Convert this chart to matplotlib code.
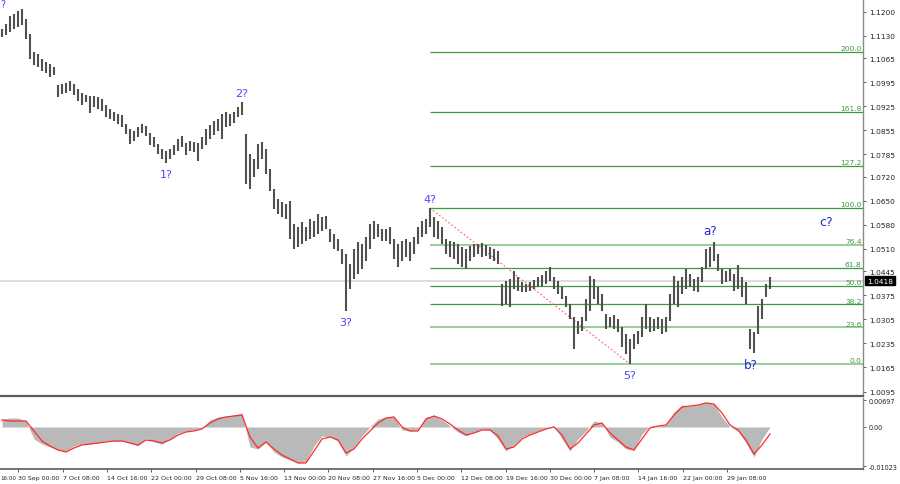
import matplotlib
matplotlib.use("Agg")
import matplotlib.pyplot as plt
import matplotlib.transforms as mtransforms
import numpy as np

# ---------------- data ----------------
bar_high = [1.1150,1.1164,1.1187,1.1193,1.1202,1.1208,1.1179,1.1135,1.1083,1.1077,
 1.1062,1.1054,1.1048,1.1039,1.0987,1.0990,1.0993,1.0998,1.0990,1.0975,
 1.0963,1.0958,1.0955,1.0955,1.0952,1.0946,1.0929,1.0917,1.0908,1.0902,
 1.0899,1.0873,1.0859,1.0853,1.0865,1.0873,1.0867,1.0847,1.0835,1.0815,
 1.0801,1.0795,1.0801,1.0812,1.0830,1.0838,1.0818,1.0824,1.0821,1.0818,
 1.0835,1.0859,1.0870,1.0882,1.0888,1.0902,1.0908,1.0902,1.0908,1.0923,
 1.0937,1.0844,1.0786,1.0771,1.0815,1.0821,1.0801,1.0742,1.0684,1.0655,
 1.0646,1.0640,1.0649,1.0582,1.0574,1.0588,1.0574,1.0597,1.0591,1.0611,
 1.0603,1.0606,1.0568,1.0553,1.0539,1.0510,1.0495,1.0466,1.0510,1.0530,
 1.0524,1.0544,1.0582,1.0591,1.0582,1.0568,1.0568,1.0574,1.0539,1.0524,
 1.0533,1.0539,1.0530,1.0544,1.0574,1.0591,1.0597,1.0629,1.0603,1.0591,
 1.0574,1.0539,1.0533,1.0530,1.0524,1.0515,1.0510,1.0518,1.0524,1.0524,
 1.0527,1.0521,1.0515,1.0510,1.0504,1.0408,1.0416,1.0422,1.0446,1.0428,
 1.0414,1.0408,1.0414,1.0419,1.0428,1.0434,1.0446,1.0457,1.0428,1.0416,
 1.0399,1.0373,1.0349,1.0312,1.0300,1.0312,1.0364,1.0431,1.0422,1.0399,
 1.0379,1.0320,1.0312,1.0317,1.0306,1.0283,1.0262,1.0248,1.0262,1.0271,
 1.0312,1.0349,1.0312,1.0306,1.0312,1.0306,1.0312,1.0379,1.0431,1.0416,
 1.0428,1.0451,1.0437,1.0422,1.0428,1.0457,1.0510,1.0515,1.0530,1.0495,
 1.0451,1.0446,1.0451,1.0437,1.0463,1.0428,1.0414,1.0277,1.0268,1.0344,
 1.0364,1.0408,1.0428]

bar_low = [1.1126,1.1132,1.1141,1.1150,1.1156,1.1161,1.1121,1.1062,1.1045,1.1039,
 1.1027,1.1022,1.1010,1.1016,1.0952,1.0961,1.0963,1.0969,1.0958,1.0940,
 1.0929,1.0937,1.0905,1.0923,1.0917,1.0911,1.0894,1.0888,1.0882,1.0873,
 1.0865,1.0844,1.0815,1.0824,1.0835,1.0847,1.0838,1.0812,1.0806,1.0786,
 1.0771,1.0760,1.0771,1.0783,1.0795,1.0806,1.0783,1.0795,1.0792,1.0766,
 1.0801,1.0812,1.0830,1.0841,1.0853,1.0830,1.0865,1.0867,1.0876,1.0894,
 1.0899,1.0699,1.0684,1.0719,1.0742,1.0771,1.0728,1.0678,1.0626,1.0611,
 1.0603,1.0597,1.0539,1.0510,1.0515,1.0524,1.0533,1.0539,1.0544,1.0553,
 1.0562,1.0568,1.0530,1.0510,1.0504,1.0466,1.0329,1.0393,1.0422,1.0437,
 1.0451,1.0475,1.0510,1.0539,1.0544,1.0533,1.0533,1.0524,1.0480,1.0457,
 1.0475,1.0486,1.0475,1.0495,1.0524,1.0544,1.0553,1.0574,1.0544,1.0539,
 1.0524,1.0495,1.0486,1.0480,1.0466,1.0457,1.0451,1.0475,1.0486,1.0495,
 1.0486,1.0489,1.0480,1.0475,1.0466,1.0344,1.0349,1.0341,1.0393,1.0387,
 1.0384,1.0384,1.0387,1.0393,1.0399,1.0402,1.0408,1.0416,1.0393,1.0379,
 1.0364,1.0341,1.0306,1.0219,1.0262,1.0271,1.0300,1.0329,1.0364,1.0349,
 1.0329,1.0277,1.0283,1.0277,1.0268,1.0224,1.0204,1.0175,1.0219,1.0233,
 1.0253,1.0277,1.0268,1.0271,1.0277,1.0262,1.0268,1.0300,1.0349,1.0341,
 1.0379,1.0393,1.0399,1.0387,1.0384,1.0414,1.0451,1.0457,1.0475,1.0446,
 1.0408,1.0414,1.0416,1.0387,1.0393,1.0370,1.0349,1.0219,1.0207,1.0262,
 1.0306,1.0370,1.0393]

osc_hist = [0.00208,0.00234,0.00234,0.00156,-0.00312,-0.00442,-0.00520,-0.00598,-0.00624,-0.00494,
 -0.00442,-0.00442,-0.00416,-0.00364,-0.00364,-0.00364,-0.00416,-0.00494,-0.00286,-0.00390,
 -0.00442,-0.00312,-0.00156,-0.00104,-0.00078,-0.00026,0.00182,0.00260,0.00286,0.00312,
 0.00364,-0.00520,-0.00572,-0.00390,-0.00650,-0.00780,-0.00858,-0.00936,-0.00910,-0.00494,
 -0.00234,-0.00260,-0.00364,-0.00754,-0.00520,-0.00234,0.0,0.00208,0.00260,0.00260,
 -0.00078,-0.00104,-0.00078,0.00260,0.00286,0.00182,0.00026,-0.00130,-0.00234,-0.00130,
 -0.00052,-0.00078,-0.00312,-0.00624,-0.00468,-0.00260,-0.00182,-0.00104,-0.00026,0.00026,
 -0.00312,-0.00624,-0.00312,-0.00104,0.00156,0.00104,-0.00260,-0.00390,-0.00572,-0.00598,
 -0.00182,0.00026,0.00026,0.00052,0.00390,0.00572,0.00546,0.00572,0.00650,0.00598,
 0.00260,0.0,-0.00104,-0.00416,-0.00780,-0.00312,0.0]

osc_signal = [0.00182,0.00156,0.00156,0.00156,-0.00104,-0.00364,-0.00494,-0.00598,-0.00650,-0.00546,
 -0.00468,-0.00442,-0.00416,-0.00390,-0.00364,-0.00364,-0.00416,-0.00468,-0.00338,-0.00364,
 -0.00416,-0.00338,-0.00208,-0.00130,-0.00104,-0.00052,0.00104,0.00208,0.00260,0.00286,
 0.00312,-0.00260,-0.00546,-0.00390,-0.00572,-0.00728,-0.00832,-0.00936,-0.00936,-0.00624,
 -0.00312,-0.00260,-0.00338,-0.00676,-0.00572,-0.00312,-0.00104,0.00104,0.00234,0.00260,
 0.0,-0.00104,-0.00104,0.00208,0.00286,0.00208,0.00078,-0.00078,-0.00208,-0.00156,
 -0.00078,-0.00078,-0.00234,-0.00572,-0.00520,-0.00312,-0.00208,-0.00130,-0.00052,0.0,
 -0.00208,-0.00572,-0.00416,-0.00182,0.00052,0.00104,-0.00156,-0.00338,-0.00520,-0.00598,
 -0.00312,-0.00026,0.00026,0.00052,0.00312,0.00520,0.00546,0.00572,0.00624,0.00598,
 0.00364,0.00052,-0.00078,-0.00338,-0.00702,-0.00468,-0.00182]

price_ticks = [1.1200, 1.1130, 1.1065, 1.0995, 1.0925, 1.0855, 1.0785, 1.0720, 1.0650,
               1.0580, 1.0510, 1.0445, 1.0375, 1.0305, 1.0235, 1.0165, 1.0095]
osc_ticks = [0.00697, 0.00, -0.01023]
osc_tick_labels = ["0.00697", "0.00", "-0.01023"]
first_date_label = "16:00"
date_labels = ["30 Sep 00:00", "7 Oct 08:00", "14 Oct 16:00", "22 Oct 00:00",
               "29 Oct 08:00", "5 Nov 16:00", "13 Nov 00:00", "20 Nov 08:00", "27 Nov 16:00",
               "5 Dec 00:00", "12 Dec 08:00", "19 Dec 16:00", "30 Dec 00:00", "7 Jan 08:00",
               "14 Jan 16:00", "22 Jan 00:00", "29 Jan 08:00"]
current_price = 1.0418
fib_levels = [0.0, 23.6, 38.2, 50.0, 61.8, 76.4, 100.0, 127.2, 161.8, 200.0]
fib_start_bar = 107      # wave 4? top
fib_end_bar = 157        # wave 5? bottom
wave_labels = ["1?", "2?", "3?", "4?", "5?", "a?", "b?"]
wave_bars = [41, 60, 86, 107, 157, 178, 188]
wave_side = ["low", "high", "low", "high", "low", "high", "low"]
c_label_bar = 206
c_label_price = 1.0591

# ---------------- layout ----------------
W, H = 900, 485
fig = plt.figure(figsize=(9, 4.85), dpi=100)
fig.patch.set_facecolor("white")
right_px = 863
ax = fig.add_axes([0, (H - 397) / H, right_px / W, 397 / H])
ax2 = fig.add_axes([0, (H - 470) / H, right_px / W, (470 - 399) / H])

n = len(bar_high)
idx = np.arange(n)
xlim = (-0.5, 215.25)

# main chart
ax.axhline(current_price, color="#dadada", lw=1.3, zorder=0)

fib_hi = bar_high[fib_start_bar]
fib_lo = bar_low[fib_end_bar]
light = {0.0, 23.6, 76.4}
for lvl in fib_levels:
    p = fib_lo + (fib_hi - fib_lo) * lvl / 100.0
    if lvl in light:
        ax.hlines(p, fib_start_bar, xlim[1], color="#97d197", lw=1.4, zorder=1)
    else:
        ax.hlines(p, fib_start_bar, xlim[1], color="#3d9b3d", lw=0.9, zorder=1)
    ax.annotate("%.1f" % lvl, xy=(xlim[1], p), xytext=(-1.0, 0.4), textcoords="offset points",
                ha="right", va="bottom", fontsize=5.4, color="#3d9b3d",
                family="DejaVu Sans", annotation_clip=False)

ax.plot([fib_start_bar, fib_end_bar], [fib_hi, fib_lo], color="#ff5a5a", lw=0.8,
        ls=(0, (1.5, 2.0)), zorder=2)

ax.vlines(idx, bar_low, bar_high, color="#505050", lw=1.5, zorder=3)

# wave labels
for lab, b, side in zip(wave_labels, wave_bars, wave_side):
    letter = lab[0].isalpha()
    col = "#2626d4" if letter else "#4848ff"
    if side == "high":
        y = bar_high[b]
        dy = 8.5 if letter else 6.5
    else:
        y = bar_low[b]
        dy = -8.5 if letter else -8.0
    dx = -2.5 if letter else 0
    ax.annotate(lab, xy=(b, y), xytext=(dx, dy), textcoords="offset points",
                ha="center", va="center", fontsize=8.6 if letter else 8,
                color=col, family="DejaVu Sans")
ax.text(c_label_bar, c_label_price, "c?", ha="center", va="center", fontsize=9,
        color="#2626d4", family="DejaVu Sans")
ax.text(0.0, 0.999, "?", transform=ax.transAxes, ha="left", va="top", fontsize=7,
        color="#4848ff")

# axis styling
for a in (ax, ax2):
    a.spines["top"].set_visible(False)
    a.spines["left"].set_visible(False)
    a.spines["right"].set_color("#8a8a8a")
    a.spines["right"].set_linewidth(1.0)
    a.yaxis.tick_right()
    a.tick_params(axis="y", which="both", length=2.5, width=0.6, color="#444444",
                  labelsize=5.3, labelcolor="#222222", pad=2)
    a.set_facecolor("white")

ax.spines["bottom"].set_color("#5a5a5a")
ax.spines["bottom"].set_linewidth(1.6)
ax.set_xticks([])
ax.set_yticks(price_ticks)
ax.set_yticklabels(["%.4f" % v for v in price_ticks], family="DejaVu Sans")
ax.set_xlim(*xlim)
ax.set_ylim(1.0082, 1.1237)

# current price box
trans = mtransforms.blended_transform_factory(ax.transAxes, ax.transData)
ax.text(1.0045, current_price, "%.4f" % current_price, transform=trans, ha="left", va="center",
        fontsize=5.3, color="white", family="DejaVu Sans",
        bbox=dict(boxstyle="square,pad=0.25", fc="black", ec="black"), clip_on=False, zorder=10)

# oscillator
ko = np.arange(len(osc_hist)) * 2
ax2.fill_between(ko, 0, osc_hist, color="#b9b9b9", lw=0, zorder=1)
ax2.plot(ko, osc_signal, color="#ff2b2b", lw=0.9, zorder=2)
ax2.spines["bottom"].set_color("#5a5a5a")
ax2.spines["bottom"].set_linewidth(1.2)
ax2.set_yticks(osc_ticks)
ax2.set_yticklabels(osc_tick_labels, family="DejaVu Sans")
ax2.tick_params(axis="y", labelsize=4.7, pad=1.5)

tick_pos = [4.075 + 11.075 * j for j in range(len(date_labels))]
ax2.set_xticks(tick_pos)
ax2.set_xticklabels(date_labels, family="DejaVu Sans")
ax2.tick_params(axis="x", length=2.5, width=0.6, color="#444444", labelsize=4.5,
                labelcolor="#222222", pad=1.5)
for t in ax2.get_xticklabels():
    t.set_ha("left")
ax2.set_xlim(*xlim)
ax2.set_ylim(-0.01092, 0.00754)

# leftmost date label (only its time part is in view)
ax2.annotate(first_date_label, xy=(0, 0), xycoords="axes fraction", xytext=(0.1, -4.0),
             textcoords="offset points", ha="left", va="top", fontsize=4.0,
             color="#222222", family="DejaVu Sans", annotation_clip=False)

fig.savefig("out.png", dpi=100, facecolor="white")
